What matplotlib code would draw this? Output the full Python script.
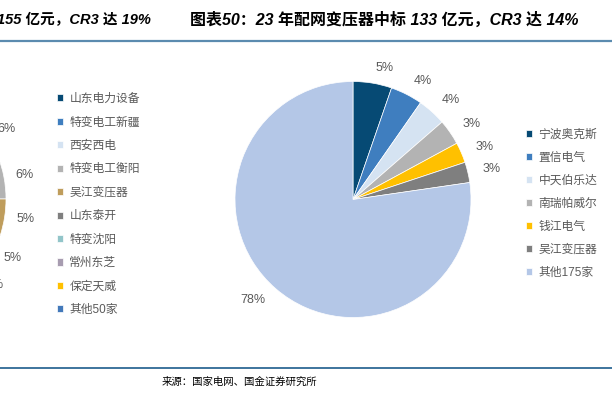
import matplotlib
matplotlib.use("Agg")
import matplotlib.pyplot as plt

plt.rcParams['font.family'] = ['Liberation Sans', 'Noto Sans CJK SC', 'DejaVu Sans']

W, H = 612, 399

# 左图（22年，只露出右边一小块）
left_names = ['山东电力设备', '特变电工新疆', '西安西电', '特变电工衡阳', '吴江变压器',
              '山东泰开', '特变沈阳', '常州东芝', '保定天威', '其他50家']
left_share = [7, 6, 6, 6, 5, 5, 3, 3, 3, 56]
left_colors = ['#064A74', '#3F7EBF', '#D5E3F2', '#B3B3B3', '#BF9D5C',
               '#7F7F7F', '#92C5C9', '#A79CB0', '#FFC000', '#4379BA']

# 右图（23年）
right_names = ['宁波奥克斯', '置信电气', '中天伯乐达', '南瑞帕威尔', '钱江电气', '吴江变压器', '其他175家']
right_share = [5.3, 4.4, 3.9, 3.5, 2.8, 2.8, 77.3]
right_pct = ['5%', '4%', '4%', '3%', '3%', '3%', '78%']
right_colors = ['#064A74', '#3F7EBF', '#D5E3F2', '#B3B3B3', '#FFC000', '#7F7F7F', '#B4C7E7']

GRAY = '#595959'


def px_axes(fig, cx, cy, r):
    # 以像素给出圆心和半径，返回正方形坐标轴
    return fig.add_axes([(cx - r) / W, (H - cy - r) / H, 2 * r / W, 2 * r / H])


def draw_pie(ax, share, colors, labels, dist):
    wedges, texts = ax.pie(share, colors=colors, labels=labels, startangle=90,
                           counterclock=False, labeldistance=dist,
                           wedgeprops=dict(edgecolor='white', linewidth=0.5),
                           textprops=dict(color=GRAY, fontsize=9))
    ax.set_xlim(-1, 1)
    ax.set_ylim(-1, 1)
    ax.axis('off')
    return wedges


fig = plt.figure(figsize=(W / 100, H / 100), dpi=100)

ax_l = px_axes(fig, -112, 199, 118)
left_labels = ['%d%%' % v for v in left_share]
w_l = draw_pie(ax_l, left_share, left_colors, left_labels, 1.1)

ax_r = px_axes(fig, 353, 199.5, 118)
w_r = draw_pie(ax_r, right_share, right_colors, right_pct, 1.13)

leg_kw = dict(frameon=False, fontsize=8.5, labelcolor=GRAY, handlelength=0.55,
              handleheight=0.55, handletextpad=0.5,
              borderpad=0, borderaxespad=0, loc='upper left')
fig.legend(w_l, left_names, bbox_to_anchor=(57 / W, 1 - 93 / H), labelspacing=0.97, **leg_kw)
fig.legend(w_r, right_names, bbox_to_anchor=(526 / W, 1 - 129 / H), labelspacing=0.93, **leg_kw)

# 标题
title_kw = dict(fontweight='bold', fontstyle='italic',
                va='center', ha='left', color='black')
fig.text(-3 / W, 1 - 20 / H, '155 亿元，CR3 达 19%', fontsize=10.5, **title_kw)
fig.text(190 / W, 1 - 20 / H, '图表50：23 年配网变压器中标 133 亿元，CR3 达 14%',
         fontsize=11.5, **title_kw)

fig.add_artist(plt.Line2D([0, 1], [1 - 40.5 / H, 1 - 40.5 / H], color='#5B8BAF', lw=1.6))
fig.add_artist(plt.Line2D([0, 1], [1 - 368 / H, 1 - 368 / H], color='#1D5C8C', lw=1.2))

fig.text(162 / W, 1 - 382 / H, '来源：国家电网、国金证券研究所', fontsize=7.5,
         va='center', ha='left', color='black')

fig.savefig('out.png', dpi=100)
